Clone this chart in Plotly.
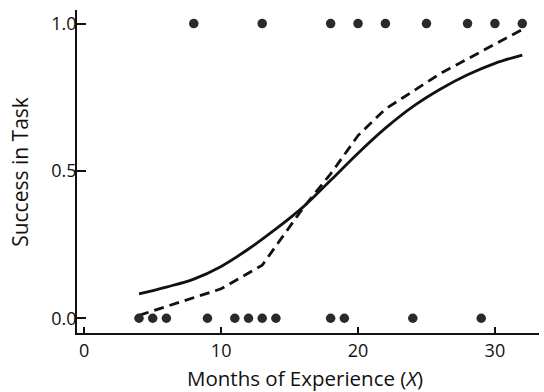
import plotly.graph_objects as go

# Observed data: months of experience and task success (0/1)
months = [4, 5, 6, 8, 9, 11, 12, 13, 13, 14, 18, 18, 19, 20, 22, 24, 25, 28, 29, 30, 32]
success = [0, 0, 0, 1, 0, 0, 0, 0, 1, 0, 0, 1, 0, 1, 1, 0, 1, 1, 0, 1, 1]

# Fitted logistic curve (solid)
fit_x = [4, 6, 8, 10, 12, 14, 16, 18, 20, 22, 24, 26, 28, 30, 32]
fit_y = [0.083, 0.106, 0.133, 0.176, 0.235, 0.303, 0.378, 0.468, 0.560, 0.645,
         0.718, 0.777, 0.826, 0.865, 0.893]

# Nonparametric curve (dashed)
np_x = [4, 6, 10, 13, 16, 18, 20, 22, 24, 26, 28, 30, 32]
np_y = [0.01, 0.04, 0.10, 0.18, 0.375, 0.49, 0.62, 0.71, 0.77, 0.83, 0.88, 0.93, 0.98]

x_ticks = [0, 10, 20, 30]
y_ticks = [0.0, 0.5, 1.0]
y_tick_labels = ["0.0", "0.5", "1.0"]

FONT = "Open Sans"
INK = "#111111"

fig = go.Figure()
fig.add_trace(go.Scatter(x=fit_x, y=fit_y, mode="lines",
                         line=dict(color=INK, width=2.8, shape="spline"),
                         showlegend=False, hoverinfo="skip"))
fig.add_trace(go.Scatter(x=np_x, y=np_y, mode="lines",
                         line=dict(color=INK, width=2.8, dash="10px,6px"),
                         showlegend=False, hoverinfo="skip"))
fig.add_trace(go.Scatter(x=months, y=success, mode="markers",
                         marker=dict(color="#2a2a2a", size=9.5, line=dict(width=0)),
                         showlegend=False))

fig.update_layout(
    width=544, height=392,
    margin=dict(l=77, r=5, t=10, b=59),
    paper_bgcolor="white", plot_bgcolor="white",
    font=dict(family=FONT, size=18, color=INK),
    xaxis=dict(range=[-0.53, 33.22], tickvals=x_ticks, ticks="inside", ticklen=6,
               tickwidth=1.5, tickcolor=INK, showline=True, linecolor=INK, linewidth=1.8,
               showgrid=False, zeroline=False, tickfont=dict(size=18, family=FONT)),
    yaxis=dict(range=[-0.05, 1.046], tickvals=y_ticks, ticktext=y_tick_labels,
               ticks="inside", ticklen=9, tickwidth=1.5, tickcolor=INK,
               showline=True, linecolor=INK, linewidth=1.8, ticklabelstandoff=-5,
               showgrid=False, zeroline=False, tickfont=dict(size=18, family=FONT)),
    annotations=[
        dict(text="Months of Experience (<i>X</i>)", xref="paper", yref="paper",
             x=0.4935, y=-0.140, xanchor="center", yanchor="middle", showarrow=False,
             font=dict(size=20.5, family=FONT, color=INK)),
        dict(text="Success in Task", xref="paper", yref="paper", textangle=-90,
             x=-0.1248, y=0.5, xanchor="center", yanchor="middle", showarrow=False,
             font=dict(size=21, family=FONT, color=INK)),
    ],
)

fig.write_html("out.html", config={"displayModeBar": False},
               post_script="document.body.style.margin='0';")
